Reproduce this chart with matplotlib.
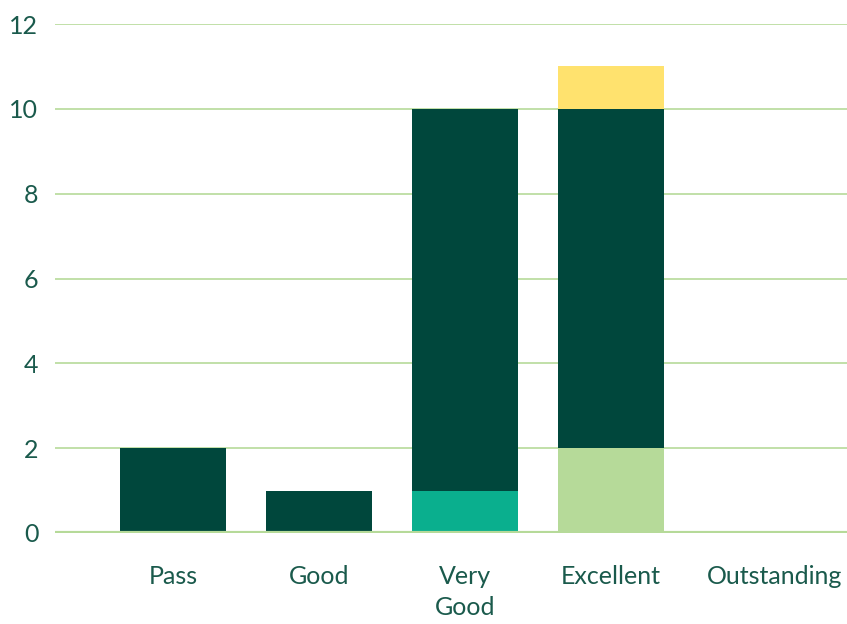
import matplotlib.pyplot as plt
import matplotlib.transforms as mtransforms
import numpy as np

categories = ["Pass", "Good", "Very\nGood", "Excellent", "Outstanding"]
light_green = [0, 0, 0, 2, 0]
teal = [0, 0, 1, 0, 0]
dark_green = [2, 1, 9, 8, 0]
yellow = [0, 0, 0, 1, 0]

series = [light_green, teal, dark_green, yellow]
colors = ["#b6da99", "#0aaf8e", "#00473c", "#ffe26e"]
text_color = "#1a5a4c"
grid_color = "#b6da99"

plt.rcParams['font.family'] = ['Lato', 'DejaVu Sans']

fig = plt.figure(figsize=(8.47, 6.24), dpi=100)
ax = fig.add_axes([55 / 847, 1 - 533 / 624, 792 / 847, 509 / 624])

x = np.arange(len(categories))
bottom = np.zeros(len(categories))
for vals, c in zip(series, colors):
    ax.bar(x, vals, width=0.726, bottom=bottom, color=c, zorder=3)
    bottom += np.array(vals)

ax.set_xlim(-0.808, 4.616)
ax.set_ylim(0, 12)
ax.set_yticks(range(0, 13, 2))
ax.set_xticks(x)
ax.set_xticklabels(categories, linespacing=1.4)
ax.grid(axis="y", color=grid_color, linewidth=1.2, zorder=0)
ax.axhline(0, color=grid_color, linewidth=3, zorder=4)
for s in ax.spines.values():
    s.set_visible(False)
ax.tick_params(length=0, labelsize=18, colors=text_color)
ax.tick_params(axis="x", pad=23)
ax.tick_params(axis="y", pad=12)

# last label sits a bit right of its bar in the original, nudge it but keep it inside
last = ax.get_xticklabels()[-1]
last.set_transform(last.get_transform() + mtransforms.ScaledTranslation(0.18, 0, fig.dpi_scale_trans))

fig.savefig("out.png", dpi=100)
